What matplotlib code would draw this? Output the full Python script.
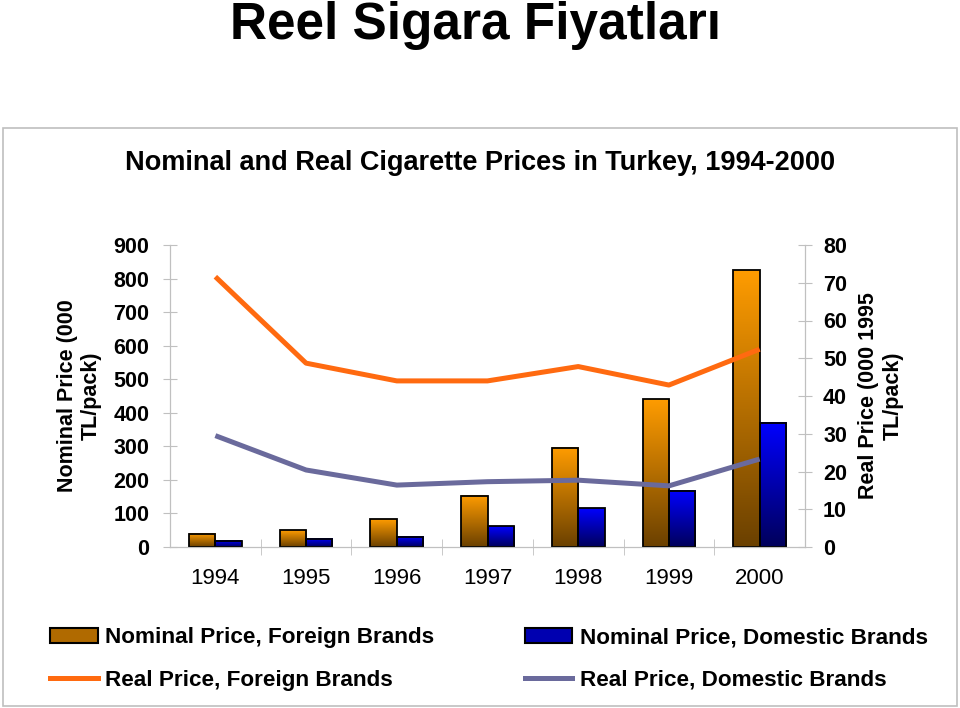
import matplotlib
matplotlib.use("Agg")
import matplotlib.pyplot as plt
import numpy as np
from matplotlib.colors import LinearSegmentedColormap
from matplotlib.patches import Rectangle, Patch
from matplotlib.lines import Line2D

plt.rcParams['font.family'] = ['Liberation Sans', 'DejaVu Sans']

# data
years = ["1994", "1995", "1996", "1997", "1998", "1999", "2000"]
nominal_foreign = [40, 50, 82, 152, 296, 440, 825]
nominal_domestic = [18, 25, 31, 62, 115, 168, 370]
real_foreign = [71.6, 48.7, 44.0, 44.0, 47.8, 42.9, 52.4]
real_domestic = [29.5, 20.4, 16.4, 17.3, 17.7, 16.2, 23.3]

FOREIGN_TOP, FOREIGN_BOT = "#FF9C00", "#6A4000"
DOMESTIC_TOP, DOMESTIC_BOT = "#0000FF", "#00005A"
ORANGE = "#FF6A10"
PURPLE = "#6A6A9C"
GRID_GREY = "#C0C0C0"

fig = plt.figure(figsize=(9.6, 7.08), dpi=100)

# outer frame round the chart
fig.patches.append(Rectangle((3 / 960, 1 - 706 / 708), 954 / 960, 578 / 708,
                             transform=fig.transFigure, fill=False,
                             edgecolor="#BFBFBF", linewidth=1.2))

fig.text(0.495, 1 - 25 / 708, "Reel Sigara Fiyatları", ha="center", va="center",
         fontsize=37, fontweight="bold")
fig.text(0.5, 1 - 163 / 708,
         "Nominal and Real Cigarette Prices in Turkey, 1994-2000",
         ha="center", va="center", fontsize=19.5, fontweight="bold")

ax = fig.add_axes([170 / 960, 1 - 547 / 708, 635 / 960, 302 / 708])
ax2 = ax.twinx()

x = np.arange(len(years))
w = 0.29


def gradient_bar(axis, x0, height, top, bot):
    cmap = LinearSegmentedColormap.from_list("g", [bot, top])
    grad = np.linspace(0, 1, 256).reshape(-1, 1)
    axis.imshow(grad, extent=[x0, x0 + w, 0, height], origin="lower",
                aspect="auto", cmap=cmap, zorder=2)
    axis.add_patch(Rectangle((x0, 0), w, height, fill=False,
                             edgecolor="black", linewidth=1.3, zorder=3))


for i in x:
    gradient_bar(ax, i - w, nominal_foreign[i], FOREIGN_TOP, FOREIGN_BOT)
    gradient_bar(ax, i, nominal_domestic[i], DOMESTIC_TOP, DOMESTIC_BOT)

ax.set_xlim(-0.5, len(years) - 0.5)
ax.set_ylim(0, 900)
ax.set_yticks(range(0, 901, 100))
ax.set_xticks(x)
ax.set_xticklabels(years, fontsize=16)
ax.set_xticks(np.arange(0.5, len(years) - 0.5, 1), minor=True)
ax.tick_params(axis="x", which="major", length=0, pad=15)
ax.tick_params(axis="x", which="minor", length=12, direction="inout", color=GRID_GREY)
ax.tick_params(axis="y", length=10, direction="inout", color=GRID_GREY,
               labelsize=15.5, pad=10)
for lab in ax.get_yticklabels():
    lab.set_fontweight("bold")

ax2.plot(x, real_foreign, color=ORANGE, linewidth=3.6, solid_capstyle="butt")
ax2.plot(x, real_domestic, color=PURPLE, linewidth=3.6, solid_capstyle="butt")
ax2.set_ylim(0, 80)
ax2.set_yticks(range(0, 81, 10))
ax2.tick_params(axis="y", length=10, direction="inout", color=GRID_GREY,
                labelsize=15.5, pad=8)
for lab in ax2.get_yticklabels():
    lab.set_fontweight("bold")

for a in (ax, ax2):
    a.spines["top"].set_visible(False)
    for s in ("left", "right", "bottom"):
        a.spines[s].set_color(GRID_GREY)

ax.set_ylabel("Nominal Price (000\nTL/pack)", fontsize=15.5, fontweight="bold",
              labelpad=8)
ax2.set_ylabel("Real Price (000 1995\nTL/pack)", fontsize=15.5, fontweight="bold",
               labelpad=8)

handles = [
    Patch(facecolor="#B06A00", edgecolor="black", linewidth=1.5),
    Line2D([], [], color=ORANGE, linewidth=3.6),
    Patch(facecolor="#0000B0", edgecolor="black", linewidth=1.5),
    Line2D([], [], color=PURPLE, linewidth=3.6),
]
labels = ["Nominal Price, Foreign Brands", "Real Price, Foreign Brands",
          "Nominal Price, Domestic Brands", "Real Price, Domestic Brands"]
leg = fig.legend(handles, labels, ncol=2, loc="center", bbox_to_anchor=(489 / 960, 1 - 659 / 708),
                 frameon=False, fontsize=16.2, handlelength=2.1, handletextpad=0.35,
                 columnspacing=4.0, labelspacing=0.95, borderpad=0)
for t in leg.get_texts():
    t.set_fontweight("bold")

fig.savefig("out.png", dpi=100)
